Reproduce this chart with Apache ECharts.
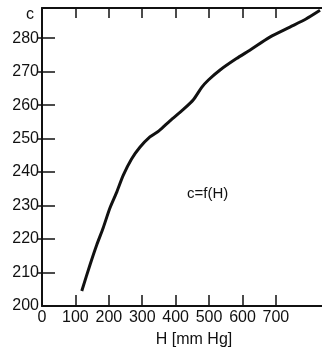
<!DOCTYPE html>
<html>
<head>
<meta charset="utf-8">
<script src="https://cdn.jsdelivr.net/npm/echarts@6/dist/echarts.min.js"></script>
<style>
  html, body { margin: 0; padding: 0; background: #fff; }
  #chart { width: 322px; height: 353px; }
</style>
</head>
<body>
<div id="chart"></div>
<script>
// H [mm Hg] vs c
const hValues = [119, 144, 164, 183, 203, 224, 243, 268, 293, 323, 350, 383, 423, 453, 478, 498, 533, 582, 622, 682, 742, 790, 832];
const cValues = [204.5, 212.4, 218.3, 223.3, 229.2, 234.1, 239, 243.9, 247.4, 250.5, 252.3, 255.3, 258.7, 261.6, 265.3, 267.5, 270.5, 273.9, 276.4, 280.3, 283.3, 285.7, 288.3];
const xTicks = [0, 100, 200, 300, 400, 500, 600, 700];
const yTicks = [200, 210, 220, 230, 240, 250, 260, 270, 280];

const FONT = 'Liberation Sans';
const chart = echarts.init(document.getElementById('chart'), null, { renderer: 'canvas' });

const axisLine = { show: true, lineStyle: { color: '#111', width: 2 } };
const tickStyle = { color: '#111', width: 1.5 };
const innerX = xTicks.slice(1);
const innerY = yTicks.slice(1);

const option = {
  animation: false,
  backgroundColor: '#fff',
  grid: { left: 42, right: 0, top: 8, bottom: 44 },
  xAxis: [
    {
      type: 'value', min: 0, max: 838, interval: 100, position: 'bottom',
      axisLine,
      axisTick: { inside: true, length: 11, lineStyle: tickStyle, customValues: innerX },
      splitLine: { show: false },
      axisLabel: {
        margin: 4, color: '#111', fontFamily: FONT, fontSize: 16,
        customValues: xTicks
      },
      name: 'H [mm Hg]', nameLocation: 'middle', nameGap: 26,
      nameTextStyle: { color: '#111', fontFamily: FONT, fontSize: 16, padding: [0, 0, 0, 24] }
    },
    {
      type: 'value', min: 0, max: 838, interval: 100, position: 'top',
      axisLine,
      axisTick: { inside: true, length: 10, lineStyle: tickStyle, customValues: innerX },
      splitLine: { show: false },
      axisLabel: { show: false }
    }
  ],
  yAxis: [
    {
      type: 'value', min: 200, max: 289, interval: 10, position: 'left',
      axisLine,
      axisTick: { inside: true, length: 13, lineStyle: tickStyle, customValues: innerY },
      splitLine: { show: false },
      axisLabel: {
        margin: 3, color: '#111', fontFamily: FONT, fontSize: 16,
        customValues: yTicks
      }
    },
    {
      type: 'value', min: 200, max: 289, interval: 10, position: 'right',
      axisLine: { show: false },
      axisTick: { show: true, inside: true, length: 5, lineStyle: tickStyle, customValues: innerY },
      splitLine: { show: false },
      axisLabel: { show: false }
    }
  ],
  graphic: [
    { type: 'text', left: 26, top: 7, style: { text: 'c', fill: '#111', font: '16px ' + FONT } },
    { type: 'text', left: 187, top: 186, style: { text: 'c=f(H)', fill: '#111', font: '15px ' + FONT } }
  ],
  series: [
    {
      type: 'line',
      data: hValues.map((h, i) => [h, cValues[i]]),
      smooth: 0.25,
      symbol: 'none',
      clip: false,
      lineStyle: { color: '#111', width: 3 }
    }
  ]
};

chart.setOption(option);
</script>
</body>
</html>
